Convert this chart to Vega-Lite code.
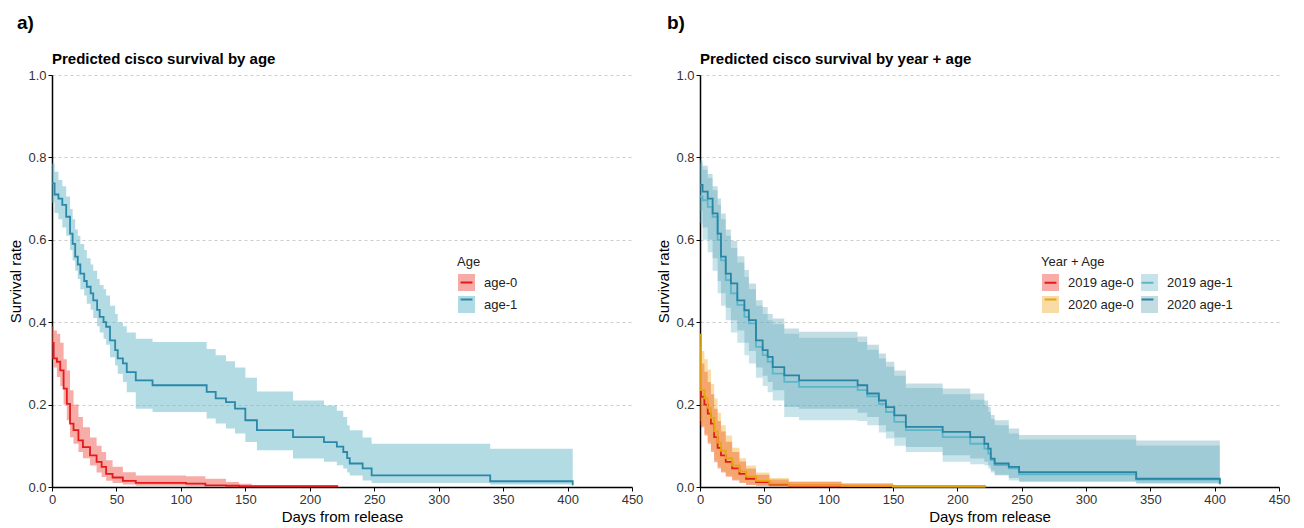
{
 "$schema": "https://vega.github.io/schema/vega-lite/v6.json",
 "background": "white",
 "padding": {"left": 8, "top": 14, "right": 10, "bottom": 2},
 "spacing": 13,
 "config": {
  "font": "Liberation Sans",
  "view": {"stroke": null},
  "axis": {"domainColor": "#000", "domainWidth": 1.5, "tickColor": "#000", "tickSize": 4, "tickWidth": 1, "labelFontSize": 13, "labelColor": "#333", "titleFontSize": 15, "titleFontWeight": "normal", "titleColor": "#000", "labelPadding": 2, "gridColor": "#cccccc", "gridDash": [3, 3]},
  "axisY": {"titlePadding": 4},
  "axisX": {"titlePadding": 3},
  "title": {"color": "#000"}
 },
 "datasets": {
  "a": [
   {"g":"age-0","day":0,"s":0.35,"lo":0.31,"hi":0.39},
   {"g":"age-0","day":1.3,"s":0.312,"lo":0.29,"hi":0.38},
   {"g":"age-0","day":3.8,"s":0.304,"lo":0.267,"hi":0.372},
   {"g":"age-0","day":6.4,"s":0.283,"lo":0.245,"hi":0.35},
   {"g":"age-0","day":9,"s":0.239,"lo":0.2,"hi":0.31},
   {"g":"age-0","day":11.5,"s":0.202,"lo":0.162,"hi":0.283},
   {"g":"age-0","day":14,"s":0.154,"lo":0.121,"hi":0.235},
   {"g":"age-0","day":16.7,"s":0.138,"lo":0.105,"hi":0.2},
   {"g":"age-0","day":20.5,"s":0.113,"lo":0.085,"hi":0.17},
   {"g":"age-0","day":24,"s":0.097,"lo":0.07,"hi":0.145},
   {"g":"age-0","day":29.5,"s":0.077,"lo":0.052,"hi":0.12},
   {"g":"age-0","day":34.6,"s":0.061,"lo":0.035,"hi":0.1},
   {"g":"age-0","day":38.5,"s":0.049,"lo":0.024,"hi":0.085},
   {"g":"age-0","day":42,"s":0.032,"lo":0.015,"hi":0.065},
   {"g":"age-0","day":47,"s":0.023,"lo":0.01,"hi":0.049},
   {"g":"age-0","day":55,"s":0.015,"lo":0.006,"hi":0.036},
   {"g":"age-0","day":65,"s":0.01,"lo":0.003,"hi":0.028},
   {"g":"age-0","day":104,"s":0.008,"lo":0.002,"hi":0.026},
   {"g":"age-0","day":119,"s":0.004,"lo":0.001,"hi":0.02},
   {"g":"age-0","day":135,"s":0.003,"lo":0.001,"hi":0.012},
   {"g":"age-0","day":145,"s":0.002,"lo":0.0005,"hi":0.008},
   {"g":"age-0","day":155,"s":0.002,"lo":0.0003,"hi":0.004},
   {"g":"age-0","day":222,"s":0.002,"lo":0.0003,"hi":0.004},
   {"g":"age-1","day":0,"s":0.737,"lo":0.69,"hi":0.785},
   {"g":"age-1","day":2,"s":0.71,"lo":0.665,"hi":0.765},
   {"g":"age-1","day":5,"s":0.7,"lo":0.65,"hi":0.745},
   {"g":"age-1","day":8,"s":0.685,"lo":0.63,"hi":0.73},
   {"g":"age-1","day":11,"s":0.656,"lo":0.61,"hi":0.705},
   {"g":"age-1","day":14,"s":0.615,"lo":0.575,"hi":0.675},
   {"g":"age-1","day":16,"s":0.59,"lo":0.55,"hi":0.65},
   {"g":"age-1","day":18,"s":0.559,"lo":0.525,"hi":0.625},
   {"g":"age-1","day":20,"s":0.54,"lo":0.505,"hi":0.61},
   {"g":"age-1","day":22,"s":0.518,"lo":0.48,"hi":0.59},
   {"g":"age-1","day":25,"s":0.5,"lo":0.465,"hi":0.575},
   {"g":"age-1","day":27,"s":0.486,"lo":0.445,"hi":0.555},
   {"g":"age-1","day":30,"s":0.47,"lo":0.43,"hi":0.54},
   {"g":"age-1","day":32,"s":0.453,"lo":0.41,"hi":0.525},
   {"g":"age-1","day":35,"s":0.43,"lo":0.39,"hi":0.505},
   {"g":"age-1","day":37,"s":0.413,"lo":0.375,"hi":0.49},
   {"g":"age-1","day":40,"s":0.4,"lo":0.36,"hi":0.48},
   {"g":"age-1","day":42,"s":0.389,"lo":0.345,"hi":0.465},
   {"g":"age-1","day":45,"s":0.356,"lo":0.315,"hi":0.44},
   {"g":"age-1","day":49,"s":0.332,"lo":0.295,"hi":0.42},
   {"g":"age-1","day":51,"s":0.312,"lo":0.275,"hi":0.4},
   {"g":"age-1","day":55,"s":0.3,"lo":0.255,"hi":0.39},
   {"g":"age-1","day":58,"s":0.279,"lo":0.23,"hi":0.375},
   {"g":"age-1","day":65,"s":0.259,"lo":0.19,"hi":0.36},
   {"g":"age-1","day":78,"s":0.247,"lo":0.182,"hi":0.352},
   {"g":"age-1","day":120,"s":0.231,"lo":0.166,"hi":0.335},
   {"g":"age-1","day":127,"s":0.215,"lo":0.154,"hi":0.32},
   {"g":"age-1","day":135,"s":0.206,"lo":0.142,"hi":0.305},
   {"g":"age-1","day":142,"s":0.19,"lo":0.13,"hi":0.29},
   {"g":"age-1","day":150,"s":0.162,"lo":0.109,"hi":0.265},
   {"g":"age-1","day":159,"s":0.138,"lo":0.089,"hi":0.232},
   {"g":"age-1","day":187,"s":0.121,"lo":0.069,"hi":0.21},
   {"g":"age-1","day":211,"s":0.109,"lo":0.061,"hi":0.198},
   {"g":"age-1","day":221,"s":0.098,"lo":0.053,"hi":0.185},
   {"g":"age-1","day":226,"s":0.085,"lo":0.045,"hi":0.17},
   {"g":"age-1","day":229,"s":0.07,"lo":0.035,"hi":0.15},
   {"g":"age-1","day":231,"s":0.057,"lo":0.028,"hi":0.138},
   {"g":"age-1","day":241,"s":0.045,"lo":0.016,"hi":0.12},
   {"g":"age-1","day":248,"s":0.028,"lo":0.01,"hi":0.105},
   {"g":"age-1","day":340,"s":0.014,"lo":0.006,"hi":0.093},
   {"g":"age-1","day":404,"s":0.004,"lo":0.006,"hi":0.093}
  ],
  "b": [
   {"g":"2019 age-0","day":0,"s":0.25,"lo":0.15,"hi":0.34},
   {"g":"2019 age-0","day":0.8,"s":0.219,"lo":0.145,"hi":0.3},
   {"g":"2019 age-0","day":3.4,"s":0.2,"lo":0.125,"hi":0.28},
   {"g":"2019 age-0","day":6,"s":0.178,"lo":0.105,"hi":0.255},
   {"g":"2019 age-0","day":8.5,"s":0.154,"lo":0.085,"hi":0.225},
   {"g":"2019 age-0","day":11,"s":0.121,"lo":0.06,"hi":0.19},
   {"g":"2019 age-0","day":13.7,"s":0.095,"lo":0.045,"hi":0.16},
   {"g":"2019 age-0","day":16.3,"s":0.077,"lo":0.035,"hi":0.135},
   {"g":"2019 age-0","day":20,"s":0.061,"lo":0.025,"hi":0.11},
   {"g":"2019 age-0","day":25,"s":0.045,"lo":0.016,"hi":0.085},
   {"g":"2019 age-0","day":30.6,"s":0.032,"lo":0.01,"hi":0.062},
   {"g":"2019 age-0","day":35.8,"s":0.02,"lo":0.005,"hi":0.045},
   {"g":"2019 age-0","day":43.5,"s":0.012,"lo":0.003,"hi":0.03},
   {"g":"2019 age-0","day":54,"s":0.006,"lo":0.0015,"hi":0.018},
   {"g":"2019 age-0","day":69,"s":0.003,"lo":0.001,"hi":0.012},
   {"g":"2019 age-0","day":110,"s":0.002,"lo":0.0005,"hi":0.008},
   {"g":"2019 age-0","day":150,"s":0.001,"lo":0.0002,"hi":0.004},
   {"g":"2019 age-0","day":222,"s":0.001,"lo":0.0002,"hi":0.004},
   {"g":"2020 age-0","day":0,"s":0.37,"lo":0.16,"hi":0.345},
   {"g":"2020 age-0","day":0.8,"s":0.235,"lo":0.15,"hi":0.33},
   {"g":"2020 age-0","day":3.4,"s":0.215,"lo":0.13,"hi":0.31},
   {"g":"2020 age-0","day":6,"s":0.192,"lo":0.11,"hi":0.285},
   {"g":"2020 age-0","day":8.5,"s":0.168,"lo":0.09,"hi":0.25},
   {"g":"2020 age-0","day":11,"s":0.135,"lo":0.065,"hi":0.215},
   {"g":"2020 age-0","day":13.7,"s":0.108,"lo":0.05,"hi":0.18},
   {"g":"2020 age-0","day":16.3,"s":0.088,"lo":0.038,"hi":0.15},
   {"g":"2020 age-0","day":20,"s":0.07,"lo":0.028,"hi":0.125},
   {"g":"2020 age-0","day":25,"s":0.052,"lo":0.018,"hi":0.095},
   {"g":"2020 age-0","day":30.6,"s":0.038,"lo":0.011,"hi":0.07},
   {"g":"2020 age-0","day":35.8,"s":0.025,"lo":0.006,"hi":0.052},
   {"g":"2020 age-0","day":43.5,"s":0.015,"lo":0.003,"hi":0.035},
   {"g":"2020 age-0","day":54,"s":0.008,"lo":0.002,"hi":0.022},
   {"g":"2020 age-0","day":69,"s":0.004,"lo":0.001,"hi":0.014},
   {"g":"2020 age-0","day":110,"s":0.003,"lo":0.0005,"hi":0.01},
   {"g":"2020 age-0","day":150,"s":0.001,"lo":0.0002,"hi":0.005},
   {"g":"2020 age-0","day":222,"s":0.001,"lo":0.0002,"hi":0.005},
   {"g":"2019 age-1","day":0,"s":0.705,"lo":0.64,"hi":0.785},
   {"g":"2019 age-1","day":2,"s":0.696,"lo":0.6,"hi":0.77},
   {"g":"2019 age-1","day":6,"s":0.68,"lo":0.57,"hi":0.75},
   {"g":"2019 age-1","day":9.8,"s":0.656,"lo":0.525,"hi":0.72},
   {"g":"2019 age-1","day":13.7,"s":0.6,"lo":0.47,"hi":0.685},
   {"g":"2019 age-1","day":16.3,"s":0.55,"lo":0.44,"hi":0.65},
   {"g":"2019 age-1","day":20,"s":0.502,"lo":0.405,"hi":0.61},
   {"g":"2019 age-1","day":24,"s":0.47,"lo":0.375,"hi":0.58},
   {"g":"2019 age-1","day":29,"s":0.442,"lo":0.35,"hi":0.545},
   {"g":"2019 age-1","day":34.5,"s":0.413,"lo":0.32,"hi":0.51},
   {"g":"2019 age-1","day":38,"s":0.397,"lo":0.3,"hi":0.48},
   {"g":"2019 age-1","day":43.5,"s":0.34,"lo":0.265,"hi":0.44},
   {"g":"2019 age-1","day":48.7,"s":0.32,"lo":0.245,"hi":0.42},
   {"g":"2019 age-1","day":52.6,"s":0.304,"lo":0.23,"hi":0.405},
   {"g":"2019 age-1","day":56.5,"s":0.275,"lo":0.21,"hi":0.395},
   {"g":"2019 age-1","day":65.5,"s":0.255,"lo":0.17,"hi":0.372},
   {"g":"2019 age-1","day":77,"s":0.243,"lo":0.162,"hi":0.362},
   {"g":"2019 age-1","day":122.5,"s":0.235,"lo":0.16,"hi":0.352},
   {"g":"2019 age-1","day":130,"s":0.22,"lo":0.15,"hi":0.333},
   {"g":"2019 age-1","day":139,"s":0.202,"lo":0.132,"hi":0.312},
   {"g":"2019 age-1","day":144.5,"s":0.182,"lo":0.118,"hi":0.292},
   {"g":"2019 age-1","day":151,"s":0.158,"lo":0.1,"hi":0.27},
   {"g":"2019 age-1","day":160,"s":0.138,"lo":0.085,"hi":0.24},
   {"g":"2019 age-1","day":188.6,"s":0.121,"lo":0.061,"hi":0.225},
   {"g":"2019 age-1","day":210,"s":0.105,"lo":0.055,"hi":0.212},
   {"g":"2019 age-1","day":221,"s":0.093,"lo":0.053,"hi":0.198},
   {"g":"2019 age-1","day":224,"s":0.081,"lo":0.045,"hi":0.182},
   {"g":"2019 age-1","day":226,"s":0.065,"lo":0.035,"hi":0.165},
   {"g":"2019 age-1","day":229,"s":0.053,"lo":0.028,"hi":0.15},
   {"g":"2019 age-1","day":240,"s":0.045,"lo":0.016,"hi":0.13},
   {"g":"2019 age-1","day":248,"s":0.031,"lo":0.012,"hi":0.115},
   {"g":"2019 age-1","day":339,"s":0.018,"lo":0.008,"hi":0.101},
   {"g":"2019 age-1","day":404,"s":0.006,"lo":0.008,"hi":0.101},
   {"g":"2020 age-1","day":0,"s":0.733,"lo":0.67,"hi":0.793},
   {"g":"2020 age-1","day":2,"s":0.717,"lo":0.63,"hi":0.78},
   {"g":"2020 age-1","day":6,"s":0.7,"lo":0.6,"hi":0.76},
   {"g":"2020 age-1","day":9.8,"s":0.664,"lo":0.555,"hi":0.73},
   {"g":"2020 age-1","day":13.7,"s":0.615,"lo":0.5,"hi":0.7},
   {"g":"2020 age-1","day":16.3,"s":0.559,"lo":0.47,"hi":0.664},
   {"g":"2020 age-1","day":20,"s":0.518,"lo":0.435,"hi":0.625},
   {"g":"2020 age-1","day":24,"s":0.494,"lo":0.405,"hi":0.597},
   {"g":"2020 age-1","day":29,"s":0.453,"lo":0.38,"hi":0.56},
   {"g":"2020 age-1","day":34.5,"s":0.429,"lo":0.35,"hi":0.527},
   {"g":"2020 age-1","day":38,"s":0.405,"lo":0.33,"hi":0.494},
   {"g":"2020 age-1","day":43.5,"s":0.356,"lo":0.29,"hi":0.453},
   {"g":"2020 age-1","day":48.7,"s":0.332,"lo":0.27,"hi":0.437},
   {"g":"2020 age-1","day":52.6,"s":0.316,"lo":0.255,"hi":0.42},
   {"g":"2020 age-1","day":56.5,"s":0.291,"lo":0.235,"hi":0.409},
   {"g":"2020 age-1","day":65.5,"s":0.271,"lo":0.194,"hi":0.385},
   {"g":"2020 age-1","day":77,"s":0.259,"lo":0.19,"hi":0.377},
   {"g":"2020 age-1","day":122.5,"s":0.247,"lo":0.18,"hi":0.365},
   {"g":"2020 age-1","day":130,"s":0.227,"lo":0.17,"hi":0.345},
   {"g":"2020 age-1","day":139,"s":0.21,"lo":0.15,"hi":0.324},
   {"g":"2020 age-1","day":144.5,"s":0.194,"lo":0.135,"hi":0.304},
   {"g":"2020 age-1","day":151,"s":0.174,"lo":0.12,"hi":0.283},
   {"g":"2020 age-1","day":160,"s":0.146,"lo":0.097,"hi":0.251},
   {"g":"2020 age-1","day":188.6,"s":0.134,"lo":0.077,"hi":0.239},
   {"g":"2020 age-1","day":210,"s":0.121,"lo":0.069,"hi":0.227},
   {"g":"2020 age-1","day":221,"s":0.105,"lo":0.061,"hi":0.21},
   {"g":"2020 age-1","day":224,"s":0.093,"lo":0.052,"hi":0.194},
   {"g":"2020 age-1","day":226,"s":0.069,"lo":0.04,"hi":0.175},
   {"g":"2020 age-1","day":229,"s":0.057,"lo":0.03,"hi":0.162},
   {"g":"2020 age-1","day":240,"s":0.049,"lo":0.022,"hi":0.142},
   {"g":"2020 age-1","day":248,"s":0.036,"lo":0.014,"hi":0.126},
   {"g":"2020 age-1","day":339,"s":0.02,"lo":0.01,"hi":0.113},
   {"g":"2020 age-1","day":404,"s":0.008,"lo":0.01,"hi":0.113}
  ]
 },
 "resolve": {"scale": {"fill": "independent", "stroke": "independent"}},
 "hconcat": [
  {
   "title": {"text": "a)", "anchor": "start", "frame": "bounds", "fontSize": 19, "fontWeight": "bold", "offset": 19, "dx": 8},
   "vconcat": [
    {
     "title": {"text": "Predicted cisco survival by age", "anchor": "start", "frame": "group", "fontSize": 15, "fontWeight": "bold", "offset": 2},
     "width": 580,
     "height": 412,
     "data": {"name": "a"},
     "encoding": {
      "x": {"field": "day", "type": "quantitative", "scale": {"domain": [0, 450], "nice": false}, "axis": {"title": "Days from release", "values": [0,50,100,150,200,250,300,350,400,450], "labelFlush": false, "grid": false}}
     },
     "layer": [
      {
       "mark": {"type": "area", "interpolate": "step-after", "fillOpacity": 0.5},
       "encoding": {
        "y": {"field": "lo", "type": "quantitative", "scale": {"domain": [0, 1], "nice": false}, "axis": {"title": "Survival rate", "values": [0,0.2,0.4,0.6,0.8,1.0], "format": ".1f", "grid": true}},
        "y2": {"field": "hi"},
        "fill": {"field": "g", "type": "nominal", "scale": {"domain": ["age-0", "age-1"], "range": ["#f15a50", "#66b8ca"]},
         "legend": {"title": "Age", "orient": "none", "legendX": 405, "legendY": 181, "symbolType": "square", "symbolSize": 289, "symbolStrokeWidth": 2, "symbolStrokeColor": "transparent", "symbolOpacity": 0.5, "labelFontSize": 13, "titleFontSize": 13, "titleFontWeight": "normal", "labelOffset": 8, "rowPadding": -7, "padding": 0, "titlePadding": 4, "labelColor": "#222", "titleColor": "#222"}}
       }
      },
      {
       "mark": {"type": "line", "interpolate": "step-after", "strokeWidth": 1.8},
       "encoding": {
        "y": {"field": "s", "type": "quantitative", "scale": {"domain": [0, 1], "nice": false}, "axis": {"title": "Survival rate", "values": [0,0.2,0.4,0.6,0.8,1.0], "format": ".1f", "grid": true}},
        "stroke": {"field": "g", "type": "nominal", "scale": {"range": ["#e41a1c", "#2b88a8"]},
         "legend": {"title": null, "orient": "none", "legendX": 405, "legendY": 198, "symbolType": "M-0.7,0H0.7", "symbolSize": 289, "symbolStrokeWidth": 2, "symbolOpacity": 1, "labelFontSize": 13, "labelOffset": 8, "rowPadding": -7, "padding": 0, "labelExpr": "''"}}
       }
      }
     ]
    }
   ]
  },
  {
   "title": {"text": "b)", "anchor": "start", "frame": "bounds", "fontSize": 19, "fontWeight": "bold", "offset": 19, "dx": 10},
   "vconcat": [
    {
     "title": {"text": "Predicted cisco survival by year + age", "anchor": "start", "frame": "group", "fontSize": 15, "fontWeight": "bold", "offset": 2},
     "width": 579,
     "height": 412,
     "data": {"name": "b"},
     "encoding": {
      "x": {"field": "day", "type": "quantitative", "scale": {"domain": [0, 450], "nice": false}, "axis": {"title": "Days from release", "values": [0,50,100,150,200,250,300,350,400,450], "labelFlush": false, "grid": false}}
     },
     "layer": [
      {
       "mark": {"type": "area", "interpolate": "step-after", "fillOpacity": 0.35},
       "encoding": {
        "y": {"field": "lo", "type": "quantitative", "scale": {"domain": [0, 1], "nice": false}, "axis": {"title": "Survival rate", "values": [0,0.2,0.4,0.6,0.8,1.0], "format": ".1f", "grid": true}},
        "y2": {"field": "hi"},
        "fill": {"field": "g", "type": "nominal", "scale": {"domain": ["2019 age-0", "2019 age-1", "2020 age-0", "2020 age-1"], "range": ["#eb140a", "#5fb2c6", "#ee9a00", "#559daf"]},
         "legend": {"title": "Year + Age", "orient": "none", "direction": "horizontal", "legendX": 341, "legendY": 181, "columns": 2, "columnPadding": 3, "symbolType": "square", "symbolSize": 289, "symbolStrokeWidth": 2, "symbolStrokeColor": "transparent", "symbolOpacity": 0.35, "labelFontSize": 13, "titleFontSize": 13, "titleFontWeight": "normal", "labelOffset": 8, "rowPadding": -7, "padding": 0, "titlePadding": 4, "labelColor": "#222", "titleColor": "#222"}}
       }
      },
      {
       "mark": {"type": "line", "interpolate": "step-after", "strokeWidth": 1.8},
       "encoding": {
        "y": {"field": "s", "type": "quantitative", "scale": {"domain": [0, 1], "nice": false}, "axis": {"title": "Survival rate", "values": [0,0.2,0.4,0.6,0.8,1.0], "format": ".1f", "grid": true}},
        "stroke": {"field": "g", "type": "nominal", "scale": {"range": ["#e41a1c", "#5cb6ca", "#e3a90c", "#2a85a4"]},
         "legend": {"title": null, "orient": "none", "direction": "horizontal", "legendX": 341, "legendY": 198, "columns": 2, "columnPadding": 69, "symbolType": "M-0.7,0H0.7", "symbolSize": 289, "symbolStrokeWidth": 2, "symbolOpacity": 1, "labelFontSize": 13, "labelOffset": 8, "rowPadding": -7, "padding": 0, "labelExpr": "''"}}
       }
      }
     ]
    }
   ]
  }
 ]
}
